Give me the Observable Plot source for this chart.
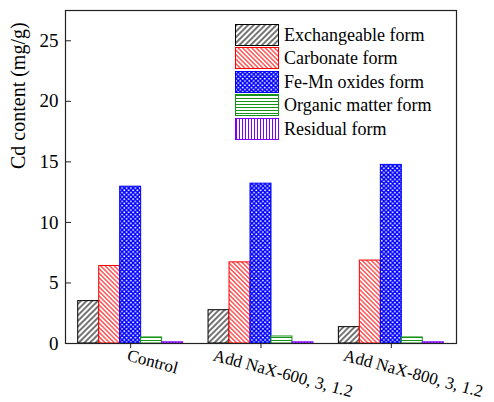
<!DOCTYPE html>
<html><head><meta charset="utf-8">
<script src="https://cdn.jsdelivr.net/npm/d3@7"></script>
<script src="https://cdn.jsdelivr.net/npm/@observablehq/plot@0.6"></script>
<style>
body{margin:0;background:#fff;}
#wrap{position:relative;width:494px;height:402px;font-family:"Liberation Serif","Tinos","DejaVu Serif",serif;}
#legend{position:absolute;left:235px;top:23px;}
.item{display:flex;align-items:center;height:23.5px;font-size:18px;line-height:1;color:#000;}
.item svg{margin-right:5px;flex:none;}
</style></head><body>
<svg id="defs" width="0" height="0" style="position:absolute"><defs></defs></svg>
<div id="wrap"><div id="legend"></div></div>
<script>
const categories = ["Control", "Add NaX-600, 3, 1.2", "Add NaX-800, 3, 1.2"];
const seriesNames = ["Exchangeable form", "Carbonate form", "Fe-Mn oxides form", "Organic matter form", "Residual form"];
const exchangeable = [3.5, 2.75, 1.35];
const carbonate = [6.4, 6.7, 6.85];
const feMnOxides = [12.95, 13.2, 14.75];
const organicMatter = [0.5, 0.58, 0.5];
const residual = [0.1, 0.1, 0.1];
const seriesColors = ["#000000", "#ff0000", "#0000ff", "#179417", "#7f00ff"];
const yTicks = [0, 5, 10, 15, 20, 25];
const yLabel = "Cd content (mg/g)";

const seriesValues = [exchangeable, carbonate, feMnOxides, organicMatter, residual];
const FONT = "'Liberation Serif', 'Tinos', 'DejaVu Serif', serif";

// patterns
const defs = d3.select("#defs defs");
function linePattern(id, color, size, angle, sw) {
  const p = defs.append("pattern").attr("id", id).attr("patternUnits", "userSpaceOnUse")
    .attr("width", size).attr("height", size).attr("patternTransform", `rotate(${angle})`);
  p.append("rect").attr("width", size).attr("height", size).attr("fill", "white");
  p.append("line").attr("x1", size / 2).attr("x2", size / 2).attr("y1", -1).attr("y2", size + 1)
    .attr("stroke", color).attr("stroke-width", sw);
}
linePattern("pat0", seriesColors[0], 4, 45, 1.1);
linePattern("pat1", seriesColors[1], 3.2, -45, 1);
{
  const s = 4.4;
  const p = defs.append("pattern").attr("id", "pat2").attr("patternUnits", "userSpaceOnUse")
    .attr("width", s).attr("height", s);
  p.append("rect").attr("width", s).attr("height", s).attr("fill", seriesColors[2]);
  p.append("circle").attr("cx", s / 4).attr("cy", s / 4).attr("r", 0.95).attr("fill", "white");
  p.append("circle").attr("cx", 3 * s / 4).attr("cy", 3 * s / 4).attr("r", 0.95).attr("fill", "white");
}
linePattern("pat3", seriesColors[3], 3, 90, 1);
linePattern("pat4", seriesColors[4], 3, 0, 1);

const rows = [];
seriesValues.forEach((vals, s) => vals.forEach((v, c) => rows.push({c, s, v})));
const barW = 0.161;

// x labels: centred right of tick, bounding box top aligned
const ctx = document.createElement("canvas").getContext("2d");
const labelSize = 17;
ctx.font = `${labelSize}px ${FONT}`;
const ang = 15 * Math.PI / 180;
const xLabelMarks = categories.map((name, i) => {
  const w = ctx.measureText(name).width;
  const half = (w * Math.sin(ang) + labelSize * 0.9 * Math.cos(ang)) / 2;
  return Plot.text([i], {
    x: d => d, frameAnchor: "bottom", text: d => categories[d],
    rotate: 15, textAnchor: "middle", lineAnchor: "middle",
    dx: 22, dy: 4 + half, fontSize: labelSize, fill: "black"
  });
});

const chart = Plot.plot({
  width: 494, height: 402,
  marginLeft: 65, marginRight: 38, marginTop: 10, marginBottom: 59,
  style: {fontFamily: FONT, fontSize: "18px", background: "white", color: "black", overflow: "visible"},
  x: {domain: [-0.5, 2.5]},
  y: {domain: [0, 27.5]},
  color: {type: "identity"},
  marks: [
    Plot.rect(rows, {
      x1: d => d.c + (d.s - 2.5) * barW,
      x2: d => d.c + (d.s - 1.5) * barW,
      y1: 0, y2: "v",
      fill: d => `url(#pat${d.s})`,
      stroke: d => seriesColors[d.s],
      strokeWidth: 1
    }),
    Plot.frame({stroke: "#222", strokeWidth: 1.2}),
    Plot.axisY(yTicks, {tickSize: -6, tickPadding: 13, fontSize: 19, label: null, stroke: "#222"}),
    Plot.axisX([0, 1, 2], {tickSize: 5, tickFormat: () => "", label: null, stroke: "#222"}),
    ...xLabelMarks,
    Plot.text([yLabel], {text: d => d, frameAnchor: "left", rotate: -90, dx: -47, dy: -8, fontSize: 20, fill: "black"})
  ]
});
document.getElementById("wrap").prepend(chart);

const legend = d3.select("#legend");
seriesNames.forEach((name, i) => {
  const it = legend.append("div").attr("class", "item");
  const sv = it.append("svg").attr("width", 44).attr("height", 22);
  sv.append("rect").attr("x", 0.5).attr("y", 0.5).attr("width", 43).attr("height", 21)
    .attr("fill", `url(#pat${i})`).attr("stroke", seriesColors[i]).attr("stroke-width", 1);
  it.append("span").text(name);
});
</script>
</body></html>
